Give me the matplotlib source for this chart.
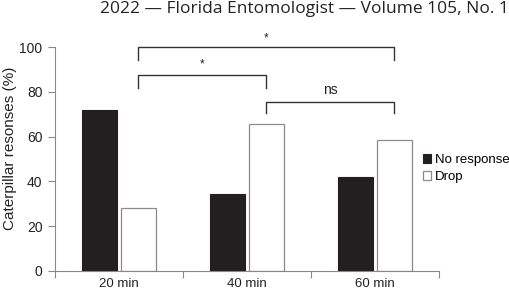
import matplotlib.pyplot as plt
import numpy as np

categories = ['20 min', '40 min', '60 min']
no_response = [72, 34.5, 41.8]
drop = [28, 65.5, 58.5]
series_names = ['No response', 'Drop']

plt.rcParams['font.family'] = ['Liberation Sans', 'DejaVu Sans']

fig = plt.figure(figsize=(5.09, 2.94), dpi=100)
ax = fig.add_axes([55 / 509, 1 - 271 / 294, 384 / 509, 224 / 294])

x = np.arange(len(categories))
w = 0.273
off = 0.152
ax.bar(x - off, no_response, w, color='#231f20', edgecolor='#231f20', linewidth=0.8,
       label=series_names[0])
ax.bar(x + off, drop, w, color='white', edgecolor='#8a8a8a', linewidth=0.9,
       label=series_names[1])

ax.set_xlim(-0.5, 2.5)
ax.set_ylim(0, 100)
ax.set_yticks([0, 20, 40, 60, 80, 100])
ax.set_xticks([-0.5, 0.5, 1.5, 2.5])
ax.set_xticklabels([])
ax.set_xticks(x, minor=True)
ax.set_xticklabels(categories, minor=True)
ax.tick_params(axis='x', which='minor', length=0, pad=5, labelsize=9.5)
ax.tick_params(axis='both', which='major', length=5, color='#888888', width=0.8)
ax.tick_params(axis='both', which='both', labelcolor='#222222')
ax.tick_params(axis='y', pad=4, labelsize=10)
for s in ['top', 'right']:
    ax.spines[s].set_visible(False)
for s in ['left', 'bottom']:
    ax.spines[s].set_color('#888888')
    ax.spines[s].set_linewidth(0.8)

ax.set_ylabel('Caterpillar resonses (%)', fontsize=11, color='#222222')
ax.yaxis.set_label_coords(-38 / 384, 0.547)


def bracket(x1, x2, top, bottom, text, ty, fs):
    ax.plot([x1, x1, x2, x2], [bottom, top, top, bottom], color='#333333', lw=1.0,
            clip_on=False)
    ax.text((x1 + x2) / 2, ty, text, ha='center', va='center', fontsize=fs,
            color='#222222', clip_on=False)


bracket(0 + off, 2 + off, 100, 94.2, '*', 103.6, 8.5)
bracket(0 + off, 1 + off, 87.4, 81.7, '*', 92.3, 8.5)
bracket(1 + off, 2 + off, 75.6, 70.5, 'ns', 80.6, 10)

ax.legend(loc='upper left', bbox_to_anchor=(0.948, 0.54), frameon=False, fontsize=9.5,
          handlelength=0.6, handleheight=0.6, handletextpad=0.3, labelspacing=0.38,
          borderaxespad=0.0, borderpad=0.3)

fig.text(1.0, 1 - 9 / 294, '2022 \u2014 Florida Entomologist \u2014 Volume 105, No. 1',
         ha='right', va='center', fontsize=12.5, family='Open Sans', color='#222222')

fig.savefig('out.png', dpi=100)
